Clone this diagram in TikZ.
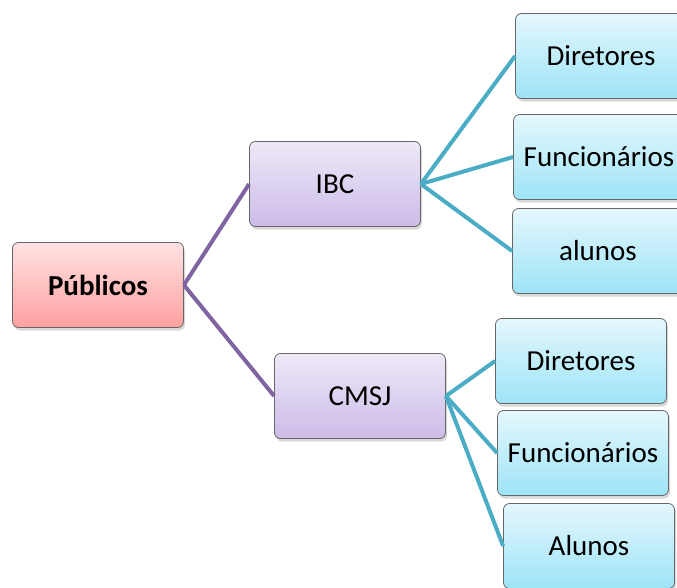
\documentclass[tikz,border=0pt]{standalone}
\usepackage{fontspec}
\setmainfont{Carlito}
\usetikzlibrary{shadows}
\definecolor{roottop}{RGB}{255,226,226}
\definecolor{rootbot}{RGB}{255,160,160}
\definecolor{midtop}{RGB}{238,232,248}
\definecolor{midbot}{RGB}{204,188,232}
\definecolor{leaftop}{RGB}{228,247,253}
\definecolor{leafbot}{RGB}{158,228,247}
\definecolor{midline}{RGB}{128,100,162}
\definecolor{leafline}{RGB}{75,172,198}

\begin{document}
\begin{tikzpicture}[x=1pt, y=-1pt,
    box/.style={rectangle, rounded corners=6pt, draw=gray!80!black, line width=0.8pt,
        minimum width=171pt, minimum height=85pt, font=\fontsize{29}{33}\selectfont,
        drop shadow={shadow xshift=1.5pt, shadow yshift=-3pt, opacity=0.3}},
    rootbox/.style={box, top color=roottop, bottom color=rootbot, font=\fontsize{29}{33}\selectfont\bfseries},
    midbox/.style={box, top color=midtop, bottom color=midbot},
    leafbox/.style={box, top color=leaftop, bottom color=leafbot},
    midlink/.style={draw=midline, line width=4pt},
    leaflink/.style={draw=leafline, line width=4pt}
]
\useasboundingbox (0,0) rectangle (677,587);
\node[rootbox] (pub) at (98,285) {Públicos};
\node[midbox] (ibc) at (335,184) {IBC};
\node[midbox] (cmsj) at (360,396) {CMSJ};
\node[leafbox] (dir1) at (601,56) {Diretores};
\node[leafbox] (fun1) at (599,157) {Funcionários};
\node[leafbox] (alu1) at (598,251) {alunos};
\node[leafbox] (dir2) at (581,361) {Diretores};
\node[leafbox] (fun2) at (583,453) {Funcionários};
\node[leafbox] (alu2) at (589,546) {Alunos};
\draw[midlink] (pub.east) -- (ibc.west);
\draw[midlink] (pub.east) -- (cmsj.west);
\draw[leaflink] (ibc.east) -- (dir1.west);
\draw[leaflink] (ibc.east) -- (fun1.west);
\draw[leaflink] (ibc.east) -- (alu1.west);
\draw[leaflink] (cmsj.east) -- (dir2.west);
\draw[leaflink] (cmsj.east) -- (fun2.west);
\draw[leaflink] (cmsj.east) -- (alu2.west);
\end{tikzpicture}
\end{document}
